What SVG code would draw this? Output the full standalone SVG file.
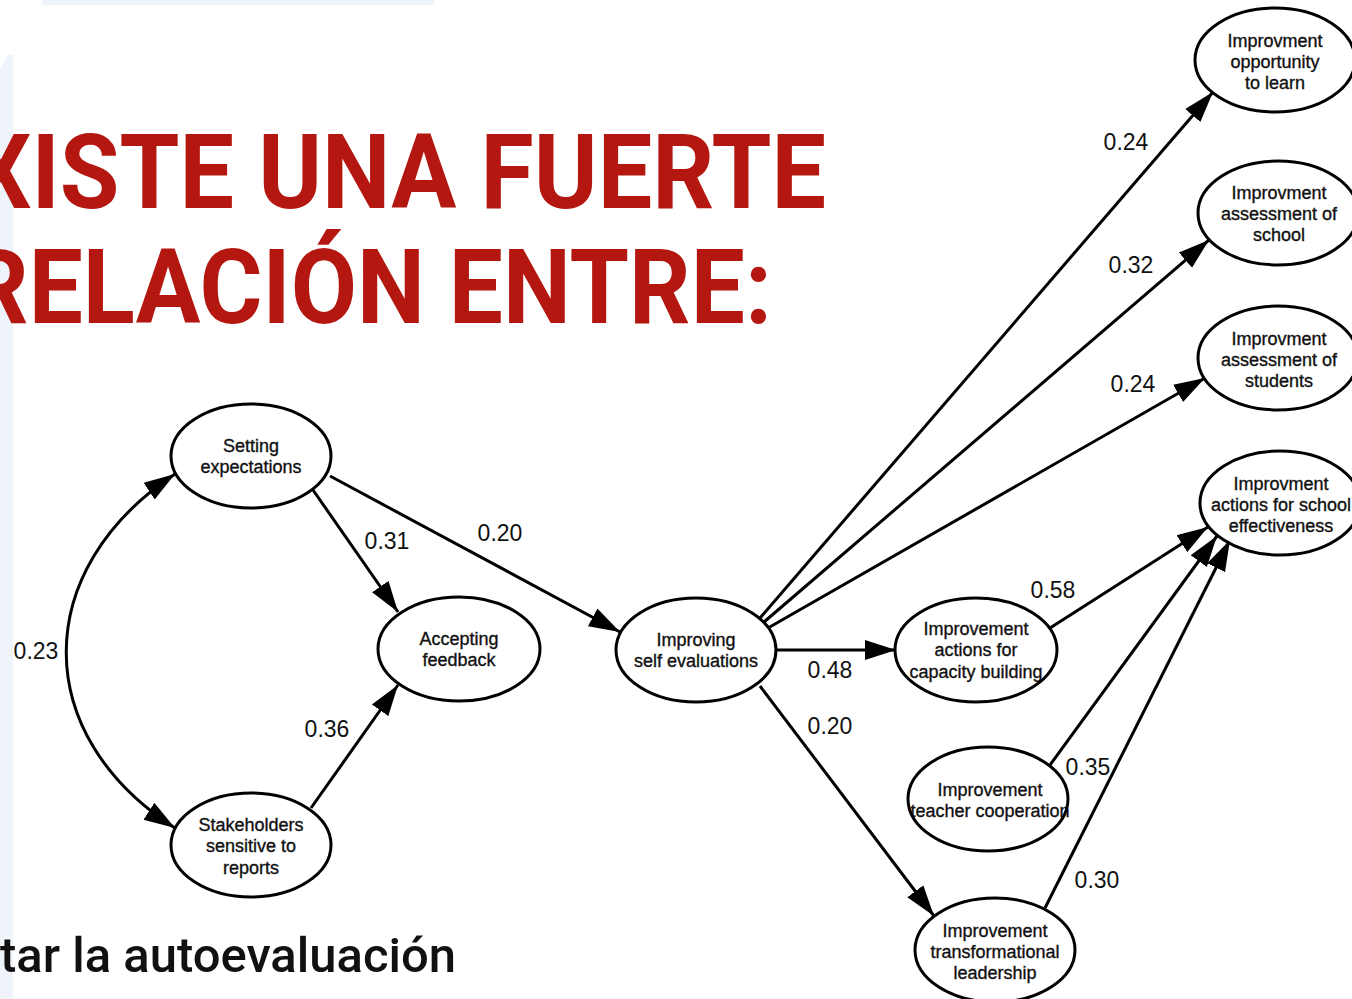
<svg xmlns="http://www.w3.org/2000/svg" width="1352" height="999" viewBox="0 0 1352 999">
<style>
.bg{fill:#eef4fa}
.title{fill:#b3170f;font-family:Roboto,"Liberation Sans",sans-serif;font-weight:700;font-size:104px}
.sub{fill:#111;font-family:Roboto,"Liberation Sans",sans-serif;font-weight:500;font-size:48px}
.nf{fill:#fff;stroke:none}
.ns{fill:none;stroke:#000;stroke-width:3}
.nt{fill:#111;stroke:#111;stroke-width:0.35;font-family:"Liberation Sans",Arial,sans-serif;font-size:18px;text-anchor:middle}
.lbl{fill:#111;font-family:"Liberation Sans",Arial,sans-serif;font-size:23px;text-anchor:middle}
.e{fill:none;stroke:#000;stroke-width:3;marker-end:url(#ah)}
</style>
<defs>
<marker id="ah" markerUnits="userSpaceOnUse" markerWidth="34" markerHeight="22" refX="31" refY="11" orient="auto-start-reverse">
<path d="M0,1 L31,11 L0,21 z" fill="#000"/>
</marker>
</defs>
<rect width="1352" height="999" fill="#fff"/>
<rect class="bg" x="42" y="0" width="392" height="5"/>
<polygon class="bg" points="0,68 8,55 13,55 13,999 0,999"/>
<text class="title" x="-30" y="208" textLength="856" lengthAdjust="spacingAndGlyphs">XISTE UNA FUERTE</text>
<text class="title" x="-33" y="323" textLength="805" lengthAdjust="spacingAndGlyphs">RELACIÓN ENTRE:</text>
<text class="sub" x="0" y="972" textLength="456" lengthAdjust="spacingAndGlyphs">tar la autoevaluación</text>
<g id="connectors">
<path class="e" d="M313,490 L398,612"/>
<path class="e" d="M330,476 L620,632"/>
<path class="e" d="M311,808 L398,685"/>
<path class="e" style="marker-start:url(#ah)" d="M175,474 C30,570 30,735 175,828"/>
<path class="e" d="M760,618 L1213,92"/>
<path class="e" d="M764,622 L1209,240"/>
<path class="e" d="M768,628 L1205,378"/>
<path class="e" d="M777,650 L896,650"/>
<path class="e" d="M760,686 L934,916"/>
<path class="e" d="M1050,628 L1208,527"/>
<path class="e" d="M1050,765 L1217,536"/>
<path class="e" d="M1045,908 L1230,540"/>
<text class="lbl" x="387" y="549">0.31</text>
<text class="lbl" x="500" y="541">0.20</text>
<text class="lbl" x="327" y="737">0.36</text>
<text class="lbl" x="36" y="659">0.23</text>
<text class="lbl" x="1126" y="150">0.24</text>
<text class="lbl" x="1131" y="273">0.32</text>
<text class="lbl" x="1133" y="392">0.24</text>
<text class="lbl" x="1053" y="598">0.58</text>
<text class="lbl" x="830" y="678">0.48</text>
<text class="lbl" x="830" y="734">0.20</text>
<text class="lbl" x="1088" y="775">0.35</text>
<text class="lbl" x="1097" y="888">0.30</text>
</g>
<g id="setting">
<ellipse class="nf" cx="251" cy="456" rx="80" ry="52"/>
<text class="nt" x="251" y="452">Setting</text>
<text class="nt" x="251" y="473">expectations</text>
<ellipse class="ns" cx="251" cy="456" rx="80" ry="52"/>
</g>
<g id="accepting">
<ellipse class="nf" cx="459" cy="649" rx="81" ry="52"/>
<text class="nt" x="459" y="645">Accepting</text>
<text class="nt" x="459" y="666">feedback</text>
<ellipse class="ns" cx="459" cy="649" rx="81" ry="52"/>
</g>
<g id="stakeholders">
<ellipse class="nf" cx="251" cy="845" rx="80" ry="52"/>
<text class="nt" x="251" y="831">Stakeholders</text>
<text class="nt" x="251" y="852">sensitive to</text>
<text class="nt" x="251" y="874">reports</text>
<ellipse class="ns" cx="251" cy="845" rx="80" ry="52"/>
</g>
<g id="improving">
<ellipse class="nf" cx="696" cy="650" rx="80" ry="52"/>
<text class="nt" x="696" y="646">Improving</text>
<text class="nt" x="696" y="667">self evaluations</text>
<ellipse class="ns" cx="696" cy="650" rx="80" ry="52"/>
</g>
<g id="capacity">
<ellipse class="nf" cx="976" cy="650" rx="81" ry="52"/>
<text class="nt" x="976" y="635">Improvement</text>
<text class="nt" x="976" y="656">actions for</text>
<text class="nt" x="976" y="678">capacity building</text>
<ellipse class="ns" cx="976" cy="650" rx="81" ry="52"/>
</g>
<g id="teacher">
<ellipse class="nf" cx="988" cy="799" rx="80" ry="52"/>
<text class="nt" x="990" y="796">Improvement</text>
<text class="nt" x="990" y="817">teacher cooperation</text>
<ellipse class="ns" cx="988" cy="799" rx="80" ry="52"/>
</g>
<g id="leadership">
<ellipse class="nf" cx="995" cy="950" rx="80" ry="52"/>
<text class="nt" x="995" y="937">Improvement</text>
<text class="nt" x="995" y="958">transformational</text>
<text class="nt" x="995" y="979">leadership</text>
<ellipse class="ns" cx="995" cy="950" rx="80" ry="52"/>
</g>
<g id="opportunity">
<ellipse class="nf" cx="1275" cy="60" rx="80" ry="52"/>
<text class="nt" x="1275" y="47">Improvment</text>
<text class="nt" x="1275" y="68">opportunity</text>
<text class="nt" x="1275" y="89">to learn</text>
<ellipse class="ns" cx="1275" cy="60" rx="80" ry="52"/>
</g>
<g id="school">
<ellipse class="nf" cx="1278" cy="213" rx="80" ry="52"/>
<text class="nt" x="1279" y="199">Improvment</text>
<text class="nt" x="1279" y="220">assessment of</text>
<text class="nt" x="1279" y="241">school</text>
<ellipse class="ns" cx="1278" cy="213" rx="80" ry="52"/>
</g>
<g id="students">
<ellipse class="nf" cx="1278" cy="358" rx="80" ry="52"/>
<text class="nt" x="1279" y="345">Improvment</text>
<text class="nt" x="1279" y="366">assessment of</text>
<text class="nt" x="1279" y="387">students</text>
<ellipse class="ns" cx="1278" cy="358" rx="80" ry="52"/>
</g>
<g id="effectiveness">
<ellipse class="nf" cx="1280" cy="503" rx="80" ry="52"/>
<text class="nt" x="1281" y="490">Improvment</text>
<text class="nt" x="1281" y="511">actions for school</text>
<text class="nt" x="1281" y="532">effectiveness</text>
<ellipse class="ns" cx="1280" cy="503" rx="80" ry="52"/>
</g>
</svg>
